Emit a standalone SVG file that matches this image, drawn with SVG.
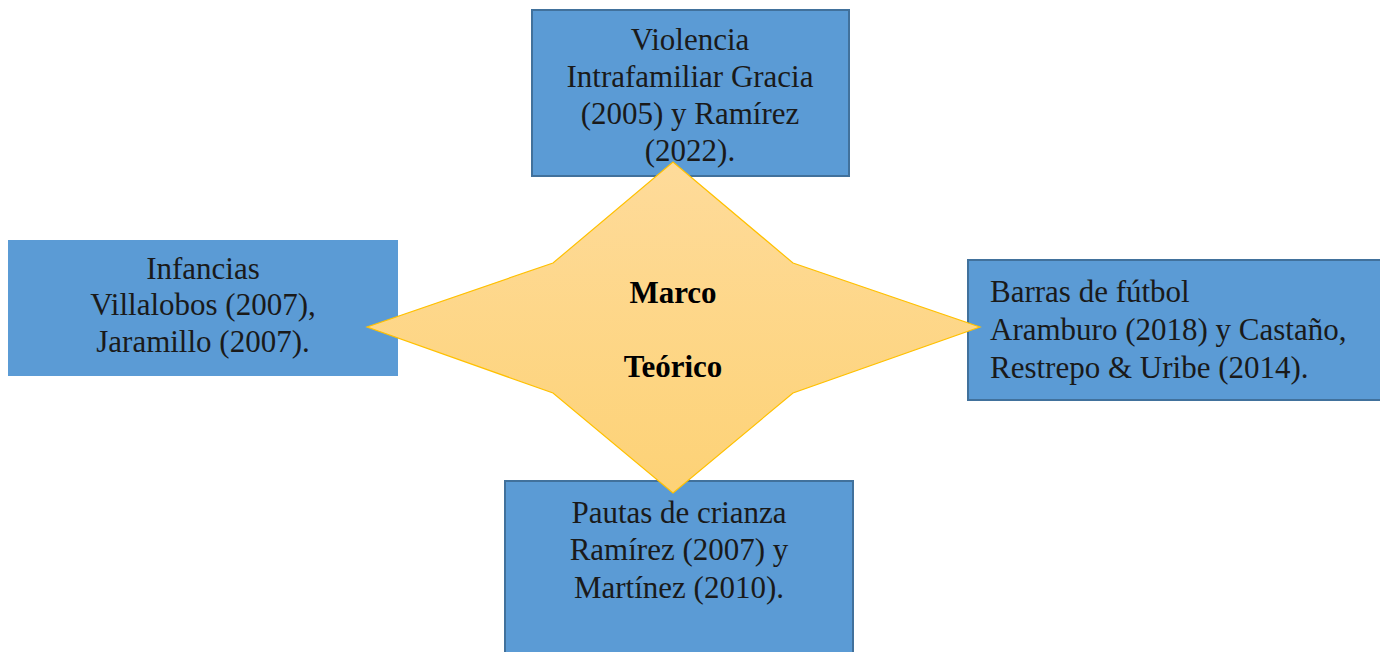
<svg xmlns="http://www.w3.org/2000/svg" width="1380" height="652" viewBox="0 0 1380 652">
<style>
.box{fill:#5b9bd5;stroke:#41719c;stroke-width:2}
.t{font-family:'Liberation Serif','Tinos','Times New Roman','DejaVu Serif',serif;font-size:31px;fill:#1a1a1a}
.c{text-anchor:middle}
.b{font-weight:bold;fill:#000}
</style>
<defs>
<linearGradient id="g" x1="0" y1="0" x2="0" y2="1">
<stop offset="0" stop-color="#fedb9a"/>
<stop offset="1" stop-color="#fdd276"/>
</linearGradient>
</defs>
<rect width="1380" height="652" fill="#fff"/>
<g id="n-violencia">
<rect class="box" x="532" y="10" width="317" height="166"/>
<text class="t c" font-family="Liberation Serif, serif"><tspan x="690" y="50">Violencia</tspan><tspan x="690" y="87">Intrafamiliar Gracia</tspan><tspan x="690" y="124">(2005) y Ramírez</tspan><tspan x="690" y="161">(2022).</tspan></text>
</g>
<g id="n-infancias">
<rect x="8" y="240" width="390" height="136" fill="#5b9bd5"/>
<text class="t c"><tspan x="203" y="279">Infancias</tspan><tspan x="203" y="315">Villalobos (2007),</tspan><tspan x="203" y="352">Jaramillo (2007).</tspan></text>
</g>
<g id="n-barras">
<rect class="box" x="968" y="260" width="414" height="140"/>
<text class="t"><tspan x="990" y="302">Barras de fútbol</tspan><tspan x="990" y="340">Aramburo (2018) y Castaño,</tspan><tspan x="990" y="378">Restrepo &amp; Uribe (2014).</tspan></text>
</g>
<g id="n-pautas">
<rect class="box" x="505" y="481" width="348" height="175"/>
<text class="t c"><tspan x="679" y="523">Pautas de crianza</tspan><tspan x="679" y="560">Ramírez (2007) y</tspan><tspan x="679" y="598">Martínez (2010).</tspan></text>
</g>
<g id="n-marco">
<polygon points="673,162 793,263 980,327 793,393 673,493 553,393 367,327 553,263" fill="url(#g)" stroke="#ffc000" stroke-width="1.2"/>
<text class="t c b" x="673" y="303">Marco</text>
<text class="t c b" x="673" y="377">Teórico</text>
</g>
<g id="connectors"></g>
</svg>
